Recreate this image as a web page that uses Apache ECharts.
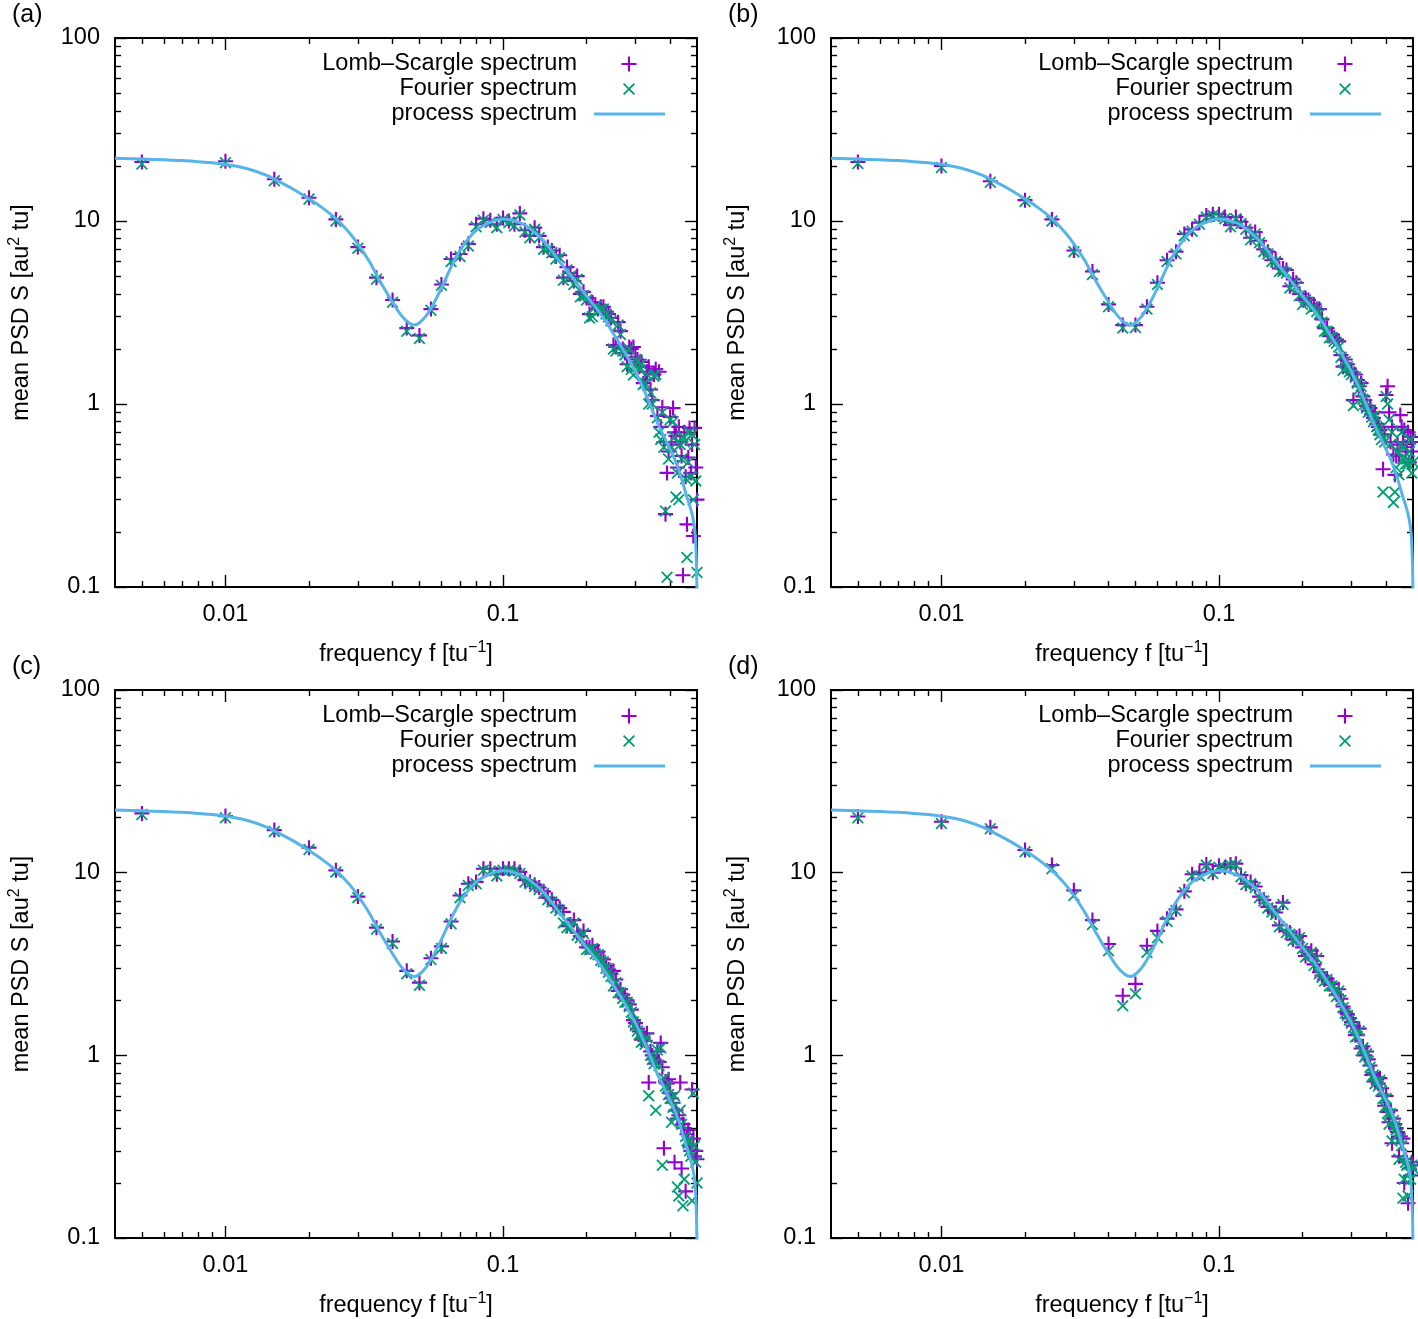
<!DOCTYPE html>
<html><head><meta charset="utf-8">
<script src="https://cdn.jsdelivr.net/npm/echarts@6/dist/echarts.min.js"></script>
<style>html,body{margin:0;padding:0;background:#fff}#c{width:1418px;height:1319px}</style>
</head><body><div id="c"></div>
<script>
// frequencies f = k/200 (tu^-1), k = 1..100
const freq = [0.005,0.01,0.015,0.02,0.025,0.03,0.035,0.04,0.045,0.05,
 0.055,0.06,0.065,0.07,0.075,0.08,0.085,0.09,0.095,0.1,
 0.105,0.11,0.115,0.12,0.125,0.13,0.135,0.14,0.145,0.15,
 0.155,0.16,0.165,0.17,0.175,0.18,0.185,0.19,0.195,0.2,
 0.205,0.21,0.215,0.22,0.225,0.23,0.235,0.24,0.245,0.25,
 0.255,0.26,0.265,0.27,0.275,0.28,0.285,0.29,0.295,0.3,
 0.305,0.31,0.315,0.32,0.325,0.33,0.335,0.34,0.345,0.35,
 0.355,0.36,0.365,0.37,0.375,0.38,0.385,0.39,0.395,0.4,
 0.405,0.41,0.415,0.42,0.425,0.43,0.435,0.44,0.445,0.45,
 0.455,0.46,0.465,0.47,0.475,0.48,0.485,0.49,0.495,0.5];

// process spectrum
const curveF = [0.004,0.005,0.006,0.007,0.008,0.009,0.01,0.012,0.014,0.016,0.018,0.02,0.022,0.025,0.028,0.03,0.033,0.036,0.04,0.043,0.046,0.048,0.05,0.053,0.056,0.06,0.065,0.07,0.075,0.08,0.085,0.09,0.095,0.1,0.105,0.11,0.12,0.13,0.14,0.15,0.16,0.17,0.18,0.19,0.2,0.21,0.22,0.23,0.24,0.25,0.26,0.27,0.28,0.29,0.3,0.32,0.34,0.36,0.38,0.4,0.42,0.44,0.46,0.47,0.48,0.49,0.495,0.498,0.5];
const curveS = [22.0,21.8,21.6,21.4,21.1,20.8,20.4,19.3,17.8,16.1,14.6,13.2,12.0,10.3,8.6,7.5,6.0,4.7,3.6,3.05,2.76,2.70,2.78,3.05,3.5,4.3,5.6,6.9,8.0,8.9,9.45,9.85,10.15,10.25,10.2,10.0,9.5,8.65,7.8,6.85,6.0,5.35,4.8,4.3,3.9,3.55,3.25,2.95,2.68,2.42,2.2,2.0,1.82,1.65,1.5,1.22,0.98,0.79,0.665,0.565,0.48,0.39,0.31,0.28,0.25,0.21,0.17,0.13,0.09];

// panel (a)
const lsA = [21.0,21.2,16.9,13.4,10.2,7.2,4.9,3.7,2.6,2.37,
 3.3,4.5,6.2,6.6,7.5,9.6,10.3,10.1,9.6,10.4,
 10.0,9.6,11.0,8.9,8.3,9.2,8.3,7.2,7.2,6.9,
 6.4,6.5,4.9,5.6,5.2,4.7,5.0,4.0,4.1,3.8,
 3.1,3.6,3.5,3.3,3.4,3.4,3.2,3.1,2.95,2.1,
 2.05,2.8,2.5,2.0,1.9,1.65,2.05,2.0,2.05,1.8,
 1.75,1.6,1.7,1.3,1.35,1.5,1.6,1.2,1.05,1.45,
 1.55,0.86,1.5,0.75,0.96,0.62,0.25,0.42,0.55,0.85,
 0.6,0.95,0.7,0.67,0.45,0.75,0.62,0.52,0.116,0.7,
 0.4,0.22,0.51,0.74,0.42,0.6,0.19,0.74,0.45,0.3];
const fA = [20.5,20.8,16.6,13.2,10.0,7.1,4.8,3.6,2.5,2.28,
 3.25,4.45,6.0,6.4,7.3,9.3,10.1,9.8,9.2,10.2,
 9.8,9.4,10.8,8.7,8.1,9.0,8.1,7.0,7.0,6.7,
 6.2,6.3,4.75,5.4,5.0,4.5,4.8,3.85,3.9,3.7,
 2.95,3.0,3.4,3.2,3.3,3.3,3.1,3.0,2.85,2.0,
 1.95,2.7,2.4,1.95,1.85,1.6,2.0,1.55,1.44,1.75,
 1.7,1.55,1.65,1.28,1.3,1.45,1.0,1.15,1.0,1.42,
 1.45,0.84,0.70,0.64,0.9,0.58,0.26,0.113,0.5,0.82,
 0.58,0.8,0.66,0.31,0.42,0.3,0.6,0.5,0.66,0.62,
 0.39,0.145,0.48,0.7,0.4,0.68,0.3,0.6,0.38,0.12];

// panel (b)
const lsB = [21.0,20.0,16.5,13.0,10.2,6.9,5.3,3.5,2.7,2.7,
 3.4,4.6,6.1,6.8,8.5,9.0,9.8,10.7,10.9,10.9,
 10.5,9.5,10.5,9.9,9.2,8.1,8.7,7.8,7.0,6.8,
 6.1,6.2,5.5,5.5,5.4,4.4,4.8,4.6,4.0,3.7,
 3.8,3.7,3.5,3.5,3.3,3.3,2.9,2.6,2.6,2.35,
 2.4,2.3,2.25,2.2,1.85,1.6,1.75,1.65,1.55,1.5,
 1.05,1.45,1.35,1.25,1.3,1.1,1.05,0.98,0.92,0.95,
 0.88,0.84,0.9,0.78,0.75,0.72,0.68,0.44,0.68,1.12,
 1.25,0.9,0.62,0.75,0.53,0.41,0.52,0.6,0.52,0.87,
 0.75,0.62,0.72,0.55,0.58,0.7,0.48,0.66,0.55,0.62];
const fB = [20.6,19.6,16.3,12.8,10.0,6.8,5.1,3.4,2.6,2.62,
 3.3,4.5,6.0,6.6,8.3,8.8,9.6,10.5,10.7,10.6,
 10.3,9.3,10.3,9.7,9.0,7.9,8.5,7.6,6.8,6.6,
 6.0,6.0,5.3,5.3,5.2,4.3,4.6,4.4,3.9,3.5,
 3.7,3.6,3.3,3.4,3.2,3.1,2.8,2.5,2.5,2.3,
 2.3,2.2,2.15,2.05,1.8,1.53,1.7,1.6,1.5,1.45,
 0.98,1.4,1.3,1.2,1.25,1.06,1.0,0.95,0.9,0.92,
 0.85,0.8,0.86,0.75,0.72,0.68,0.64,0.33,0.62,1.1,
 1.0,0.82,0.6,0.7,0.29,0.33,0.45,0.55,0.41,0.6,
 0.7,0.5,0.58,0.47,0.5,0.47,0.55,0.64,0.42,0.48];

// panel (c)
const lsC = [21.1,20.4,17.1,13.7,10.3,7.4,5.0,4.2,2.9,2.5,
 3.4,3.95,5.4,7.5,8.7,8.9,10.5,10.5,9.8,10.5,
 10.5,10.5,10.1,9.1,8.9,8.6,8.3,7.9,7.3,7.1,
 6.6,6.4,6.1,5.1,5.2,5.5,4.7,4.5,4.8,3.9,
 3.9,4.0,3.7,3.7,3.4,3.35,3.1,2.95,2.8,2.9,
 2.6,2.25,2.3,2.15,2.05,2.0,1.9,1.78,1.56,1.5,
 1.4,1.35,1.22,1.25,1.2,1.32,0.71,1.05,1.0,0.95,
 0.9,1.05,0.92,1.17,0.86,0.31,0.72,0.7,0.74,0.62,
 0.58,0.55,0.26,0.5,0.45,0.47,0.71,0.24,0.42,0.4,
 0.18,0.37,0.39,0.32,0.3,0.65,0.35,0.28,0.3,0.27];
const fC = [20.8,20.0,16.8,13.4,10.1,7.3,4.9,4.1,2.8,2.42,
 3.35,3.85,5.25,7.3,8.5,8.7,10.3,10.2,9.6,10.3,
 10.3,10.2,9.9,8.9,8.7,8.4,8.1,7.7,7.1,6.9,
 6.4,6.2,5.3,5.0,5.0,5.3,4.55,4.4,4.65,3.8,
 3.8,3.85,3.6,3.55,3.3,3.25,3.0,2.85,2.7,2.4,
 2.5,2.2,2.2,2.05,1.95,1.95,1.85,1.72,1.52,1.45,
 1.36,1.3,1.18,1.2,1.15,1.25,0.6,1.0,0.95,0.9,
 0.5,1.07,0.88,1.1,0.25,0.75,0.68,0.66,0.61,0.58,
 0.43,0.52,0.6,0.47,0.19,0.17,0.5,0.42,0.15,0.21,
 0.36,0.34,0.33,0.3,0.28,0.16,0.62,0.32,0.26,0.2];

// panel (d)
const lsD = [20.3,19.0,17.7,13.3,11.0,8.0,5.5,4.07,2.12,2.46,
 3.98,4.8,5.6,6.3,7.9,9.8,10.0,11.1,10.0,10.9,
 10.7,11.1,11.2,9.7,8.7,8.9,8.4,7.4,7.1,6.5,
 6.2,6.05,5.15,6.86,4.8,4.7,4.3,4.4,4.5,3.9,
 3.5,3.6,3.74,3.15,3.5,2.85,2.73,2.6,2.63,2.45,
 2.46,2.3,2.15,2.3,2.04,1.85,1.73,1.68,1.6,1.52,
 1.45,1.29,1.3,1.4,1.09,1.12,1.0,1.05,0.95,0.88,
 0.78,0.8,0.72,0.74,0.7,0.75,0.66,0.6,0.53,0.6,
 0.49,0.43,0.5,0.33,0.45,0.42,0.4,0.38,0.28,0.36,
 0.33,0.35,0.2,0.27,0.26,0.155,0.24,0.22,0.26,0.25];
const fD = [20.0,18.6,17.4,13.0,10.5,7.5,5.2,3.74,1.87,2.17,
 3.66,4.4,5.4,6.2,7.8,9.6,9.6,11.0,9.9,10.7,
 10.6,11.0,11.0,9.5,8.6,8.7,8.3,7.3,7.0,6.4,
 6.1,5.9,5.05,6.7,4.7,4.6,4.25,4.3,4.4,3.85,
 3.45,3.55,3.65,3.1,3.4,2.8,2.68,2.55,2.6,2.4,
 2.4,2.25,2.1,2.25,2.0,1.82,1.7,1.65,1.56,1.5,
 1.42,1.26,1.27,1.36,1.06,1.1,0.98,1.02,0.93,0.86,
 0.76,0.78,0.7,0.72,0.68,0.73,0.64,0.58,0.52,0.58,
 0.48,0.42,0.48,0.34,0.44,0.41,0.39,0.37,0.27,0.35,
 0.32,0.165,0.21,0.26,0.25,0.17,0.23,0.21,0.25,0.24];

// tick values
const xMajor = [0.01, 0.1];
const xMinor = [0.005,0.006,0.007,0.008,0.009,0.02,0.03,0.04,0.05,0.06,0.07,0.08,0.09,0.2,0.3,0.4];
const yMajor = [0.1, 1, 10, 100];
const yMinor = [0.2,0.3,0.4,0.5,0.6,0.7,0.8,0.9,2,3,4,5,6,7,8,9,20,30,40,50,60,70,80,90];

const NAME_LS = 'Lomb–Scargle spectrum';
const NAME_F = 'Fourier spectrum';
const NAME_P = 'process spectrum';
const panelLabels = ['(a)', '(b)', '(c)', '(d)'];

const PLUS = 'path://M-1,-7H1V-1H7V1H1V7H-1V1H-7V-1H-1Z';
const CROSS = 'path://M-5.5,-7L0,-1.5L5.5,-7L7,-5.5L1.5,0L7,5.5L5.5,7L0,1.5L-5.5,7L-7,5.5L-1.5,0L-7,-5.5Z';
const FONT = '"Liberation Sans", Arial, Helvetica, sans-serif';
const FS = 23.5;
const C_LS = '#9400d3', C_F = '#009e73', C_P = '#56b4e9';

const panels = [
  {ls: lsA, fo: fA, left: 115, top: 38, h: 549},
  {ls: lsB, fo: fB, left: 831, top: 38, h: 549},
  {ls: lsC, fo: fC, left: 115, top: 690, h: 550},
  {ls: lsD, fo: fD, left: 831, top: 690, h: 550}
];

function fmt(v) { return String(parseFloat(Number(v).toPrecision(4))); }

const grid = [], xAxis = [], yAxis = [], series = [], legend = [], graphic = [];
const supRich = {sup: {fontSize: 16, fontFamily: FONT, color: '#000', padding: [0, 0, 14, 0]}};

panels.forEach((p, i) => {
  grid.push({left: p.left, top: p.top, width: 582, height: p.h, containLabel: false});
  const base = {type: 'log', logBase: 10, gridIndex: i, splitLine: {show: false}, minorTick: {show: false}};
  const xb = Object.assign({}, base, {min: 0.004, max: 0.5});
  const yb = Object.assign({}, base, {min: 0.1, max: 100});
  const line = {show: true, lineStyle: {color: '#000', width: 2}};
  const noLine = {show: false};
  const tk = (vals, len) => ({show: true, inside: true, length: len, customValues: vals, lineStyle: {color: '#000', width: 1.4}});
  const noLab = {show: false};
  // x axes
  xAxis.push(Object.assign({}, xb, {position: 'bottom', axisLine: line, axisTick: tk(xMajor, 12),
    axisLabel: {show: true, customValues: xMajor, formatter: fmt, margin: 16, fontSize: FS, color: '#000', fontFamily: FONT},
    name: 'frequency f [tu{sup|−1}]', nameLocation: 'middle', nameGap: 53,
    nameTextStyle: {fontSize: FS, color: '#000', fontFamily: FONT, rich: supRich}}));
  xAxis.push(Object.assign({}, xb, {position: 'bottom', axisLine: noLine, axisTick: tk(xMinor, 6), axisLabel: noLab}));
  xAxis.push(Object.assign({}, xb, {position: 'top', axisLine: line, axisTick: tk(xMajor, 12), axisLabel: noLab}));
  xAxis.push(Object.assign({}, xb, {position: 'top', axisLine: noLine, axisTick: tk(xMinor, 6), axisLabel: noLab}));
  // y axes
  yAxis.push(Object.assign({}, yb, {position: 'left', axisLine: line, axisTick: tk(yMajor, 12),
    axisLabel: {show: true, customValues: yMajor, formatter: fmt, margin: 15, fontSize: FS, color: '#000', fontFamily: FONT},
    name: 'mean PSD S [au{sup|2} tu]', nameLocation: 'middle', nameGap: 78,
    nameTextStyle: {fontSize: FS, color: '#000', fontFamily: FONT, rich: supRich}}));
  yAxis.push(Object.assign({}, yb, {position: 'left', axisLine: noLine, axisTick: tk(yMinor, 6), axisLabel: noLab}));
  yAxis.push(Object.assign({}, yb, {position: 'right', axisLine: line, axisTick: tk(yMajor, 12), axisLabel: noLab}));
  yAxis.push(Object.assign({}, yb, {position: 'right', axisLine: noLine, axisTick: tk(yMinor, 6), axisLabel: noLab}));

  const xi = 4 * i, yi = 4 * i;
  series.push({type: 'scatter', name: NAME_LS, xAxisIndex: xi, yAxisIndex: yi,
    data: p.ls.map((v, k) => [freq[k], v]), symbol: PLUS, symbolSize: 15,
    itemStyle: {color: C_LS, opacity: 1}, silent: true, z: 2});
  series.push({type: 'scatter', name: NAME_F, xAxisIndex: xi, yAxisIndex: yi,
    data: p.fo.map((v, k) => [freq[k], v]), symbol: CROSS, symbolSize: 12,
    itemStyle: {color: C_F, opacity: 1}, silent: true, z: 3});
  series.push({type: 'line', name: NAME_P, xAxisIndex: xi, yAxisIndex: yi,
    data: curveF.map((f, j) => [f, curveS[j]]), symbol: 'none', showSymbol: false,
    smooth: 0.35, clip: true,
    lineStyle: {color: C_P, width: 3}, itemStyle: {color: C_P}, silent: true, z: 4});

  const dx = p.left - 115, dy = p.top - 38;
  const lg = (name, icon, w, h, rightEdge, top, pad) => ({
    orient: 'vertical', align: 'right', right: 1418 - (rightEdge + dx), top: top + dy,
    padding: 0, itemGap: 0, itemWidth: w, itemHeight: h, selectedMode: false,
    data: [{name: name, icon: icon}],
    textStyle: {fontSize: FS, color: '#000', fontFamily: FONT, padding: [0, pad, 0, 0]}
  });
  legend.push(lg(NAME_LS, PLUS, 15, 15, 636.5, 52, 39.5));
  legend.push(lg(NAME_F, CROSS, 12, 12, 635, 77, 41));
  legend.push(lg(NAME_P, 'rect', 71, 3, 665, 102, 12));

  graphic.push({type: 'text', left: (i % 2 === 0 ? 12 : 728), top: p.top - 35,
    style: {text: panelLabels[i], font: '25px ' + FONT, fill: '#000'}});
});

const chart = echarts.init(document.getElementById('c'), null, {renderer: 'canvas'});
chart.setOption({
  animation: false,
  backgroundColor: '#fff',
  grid, xAxis, yAxis, series, legend, graphic,
  tooltip: {show: false}
});
</script>
</body></html>
